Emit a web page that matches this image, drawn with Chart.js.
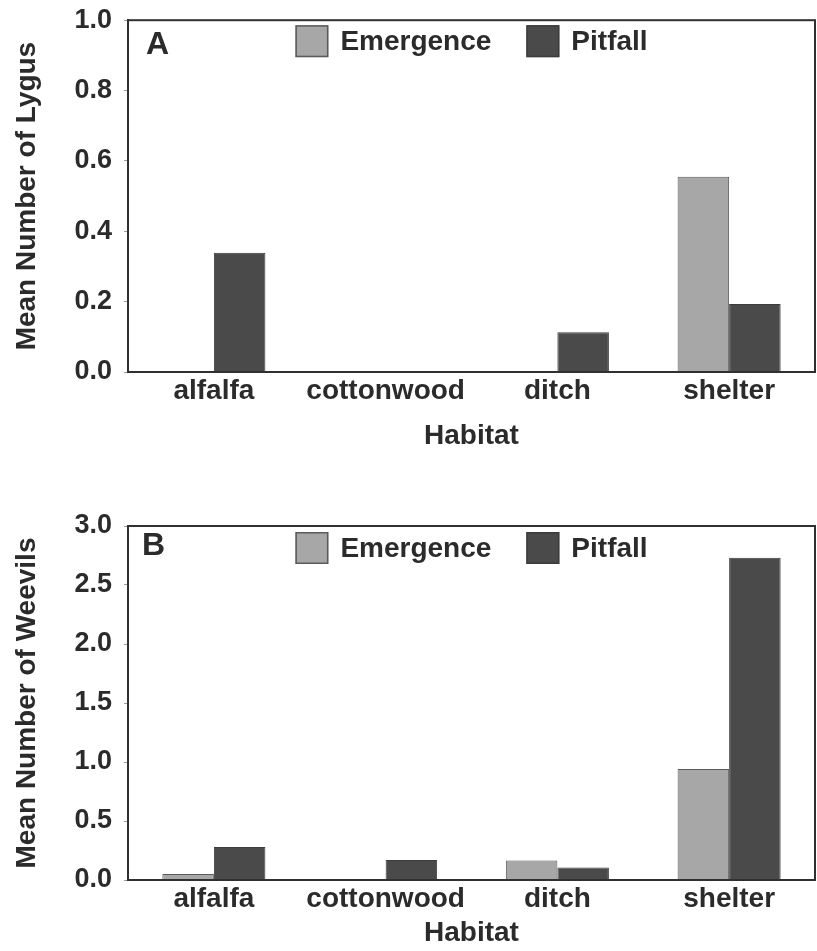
<!DOCTYPE html>
<html>
<head>
<meta charset="utf-8">
<script src="https://cdn.jsdelivr.net/npm/chart.js@4.4.1/dist/chart.umd.min.js"></script>
<style>
  html, body { margin: 0; padding: 0; background: #ffffff; overflow: hidden; }
  .panel { position: absolute; left: 0; width: 817px; }
  #panelA { top: -8px; height: 478px; }
  #panelB { top: 470px; height: 481px; }
</style>
</head>
<body>
<div class="panel" id="panelA"><canvas id="chartA"></canvas></div>
<div class="panel" id="panelB"><canvas id="chartB"></canvas></div>
<script>
// Habitat categories shared by both panels
const habitats = ['alfalfa', 'cottonwood', 'ditch', 'shelter'];
const seriesNames = ['Emergence', 'Pitfall'];

// Panel A: mean number of Lygus per trap
const lygusEmergence = [0, 0, 0, 0.555];
const lygusPitfall = [0.339, 0, 0.113, 0.193];

// Panel B: mean number of weevils per trap
const weevilEmergence = [0.05, 0, 0.165, 0.94];
const weevilPitfall = [0.28, 0.17, 0.105, 2.73];

// Y axis ranges and tick steps
const lygusAxis = [0, 1.0, 0.2];
const weevilAxis = [0, 3.0, 0.5];

const FONT = "'Liberation Sans', Arial, Helvetica, sans-serif";
const INK = '#2b2b2b';
const EMERGENCE_FILL = '#a7a7a7';
const PITFALL_FILL = '#4a4a4a';

// Frame around the plot area, panel letter and in-plot legend
const framePlugin = {
  id: 'frameAndLegend',
  afterDraw(chart, args, opts) {
    const ctx = chart.ctx;
    const a = chart.chartArea;
    ctx.save();
    ctx.strokeStyle = '#303030';
    ctx.lineWidth = 2;
    ctx.strokeRect(a.left, a.top, a.right - a.left, a.bottom - a.top);

    // panel letter
    ctx.fillStyle = INK;
    ctx.font = 'bold 32px ' + FONT;
    ctx.textAlign = 'left';
    ctx.textBaseline = 'alphabetic';
    ctx.fillText(opts.letter, a.left + opts.letterDx, a.top + opts.letterDy);

    // legend, centred across the plot area
    ctx.font = 'bold 28px ' + FONT;
    const boxW = 33, boxH = 32, gap = 12, itemGap = 35;
    const items = chart.data.datasets.map(ds => ({
      label: ds.label, fill: ds.backgroundColor, stroke: ds.borderColor,
      w: ctx.measureText(ds.label).width
    }));
    let total = 0;
    items.forEach((it, i) => { total += boxW + gap + it.w + (i < items.length - 1 ? itemGap : 0); });
    let x = (a.left + a.right) / 2 - total / 2;
    const boxTop = a.top + opts.legendDy;
    items.forEach(it => {
      ctx.fillStyle = it.fill;
      ctx.fillRect(x, boxTop, boxW, boxH);
      ctx.strokeStyle = it.stroke;
      ctx.lineWidth = 1.5;
      ctx.strokeRect(x + 0.75, boxTop + 0.75, boxW - 1.5, boxH - 1.5);
      ctx.fillStyle = INK;
      ctx.textBaseline = 'middle';
      ctx.fillText(it.label, x + boxW + gap, boxTop + boxH / 2 + 1);
      x += boxW + gap + it.w + itemGap;
    });
    ctx.restore();
  }
};

function makeChart(canvasId, emergence, pitfall, axis, yTitle, layout) {
  const [yMin, yMax, yStep] = axis;
  return new Chart(document.getElementById(canvasId), {
    type: 'bar',
    data: {
      labels: habitats,
      datasets: [
        {
          label: seriesNames[0], data: emergence,
          backgroundColor: EMERGENCE_FILL, borderColor: '#5a5a5a', borderWidth: 1
        },
        {
          label: seriesNames[1], data: pitfall,
          backgroundColor: PITFALL_FILL, borderColor: '#3c3c3c', borderWidth: 1
        }
      ]
    },
    options: {
      responsive: true,
      maintainAspectRatio: false,
      animation: false,
      devicePixelRatio: 1,
      categoryPercentage: 0.6,
      barPercentage: 1.0,
      layout: { padding: { left: 0, right: 2, top: layout.top, bottom: 0 } },
      plugins: {
        legend: { display: false },
        tooltip: { enabled: false },
        frameAndLegend: {
          letter: layout.letter, letterDx: layout.letterDx, letterDy: layout.letterDy,
          legendDy: layout.legendDy
        }
      },
      scales: {
        x: {
          grid: { display: false, drawTicks: false },
          border: { display: true, color: '#303030', width: 2 },
          ticks: {
            color: INK, padding: 2,
            font: { family: FONT, size: 28, weight: 'bold' },
            maxRotation: 0, autoSkip: false
          },
          title: {
            display: true, text: 'Habitat', color: INK,
            font: { family: FONT, size: 28, weight: 'bold' },
            padding: { top: 0, bottom: layout.xTitleBottom }
          },
          afterFit(scale) { scale.height = layout.xAxisHeight; }
        },
        y: {
          min: yMin, max: yMax,
          grid: { drawOnChartArea: false, tickLength: 4, color: '#9a9a9a', lineWidth: 1 },
          border: { display: true, color: '#303030', width: 2 },
          ticks: {
            stepSize: yStep, color: INK, padding: 12,
            font: { family: FONT, size: 27, weight: 'bold' },
            callback: v => Number(v).toFixed(1)
          },
          title: {
            display: true, text: yTitle, color: INK,
            font: { family: FONT, size: 28, weight: 'bold' },
            padding: { top: 10, bottom: 0 }
          },
          afterFit(scale) { scale.width = 128; }
        }
      }
    },
    plugins: [framePlugin]
  });
}

makeChart('chartA', lygusEmergence, lygusPitfall, lygusAxis, 'Mean Number of Lygus', {
  top: 19, xAxisHeight: 98, xTitleBottom: 17,
  letter: 'A', letterDx: 18, letterDy: 34, legendDy: 5
});

makeChart('chartB', weevilEmergence, weevilPitfall, weevilAxis, 'Mean Number of Weevils', {
  top: 56, xAxisHeight: 71, xTitleBottom: 1,
  letter: 'B', letterDx: 14, letterDy: 29, legendDy: 6
});
</script>
</body>
</html>
